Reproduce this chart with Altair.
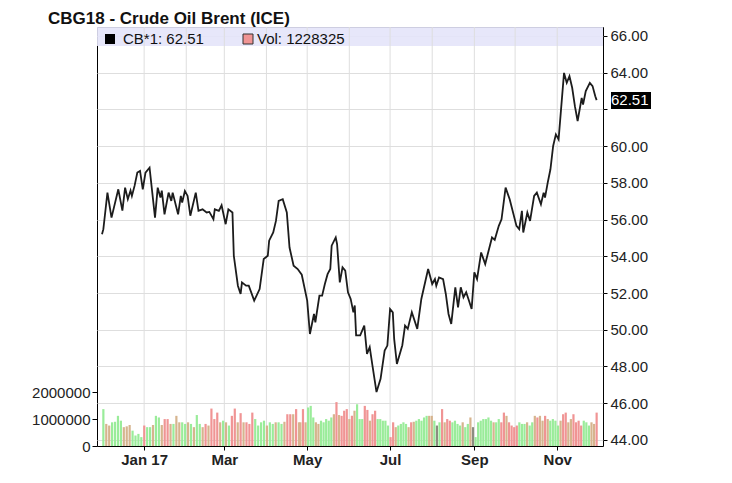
import altair as alt
import pandas as pd

TITLE = "CBG18 - Crude Oil Brent (ICE)"
LEGEND_LABELS = ["CB*1: 62.51", "Vol: 1228325"]
LAST_PRICE = 62.51

PRICE_DATES = [
    "2016-12-01", "2016-12-02", "2016-12-05", "2016-12-08", "2016-12-13", "2016-12-16", "2016-12-18",
    "2016-12-20", "2016-12-22", "2016-12-23", "2016-12-25", "2016-12-27", "2016-12-29", "2016-12-31",
    "2017-01-02", "2017-01-05", "2017-01-07", "2017-01-09", "2017-01-11", "2017-01-13", "2017-01-14",
    "2017-01-16", "2017-01-19", "2017-01-21", "2017-01-22", "2017-01-26", "2017-01-28", "2017-01-29",
    "2017-01-31", "2017-02-02", "2017-02-04", "2017-02-08", "2017-02-10", "2017-02-13", "2017-02-16",
    "2017-02-18", "2017-02-21", "2017-02-22", "2017-02-25", "2017-02-27", "2017-03-02", "2017-03-04",
    "2017-03-07", "2017-03-08", "2017-03-11", "2017-03-13", "2017-03-14", "2017-03-17", "2017-03-19",
    "2017-03-23", "2017-03-27", "2017-03-30", "2017-04-02", "2017-04-03", "2017-04-06", "2017-04-08",
    "2017-04-10", "2017-04-13", "2017-04-16", "2017-04-18", "2017-04-21", "2017-04-24", "2017-04-27",
    "2017-05-01", "2017-05-03", "2017-05-06", "2017-05-07", "2017-05-10", "2017-05-12", "2017-05-14",
    "2017-05-16", "2017-05-18", "2017-05-19", "2017-05-22", "2017-05-23", "2017-05-25", "2017-05-27",
    "2017-05-29", "2017-05-31", "2017-06-02", "2017-06-04", "2017-06-05", "2017-06-06", "2017-06-09",
    "2017-06-12", "2017-06-14", "2017-06-16", "2017-06-18", "2017-06-21", "2017-06-24", "2017-06-27",
    "2017-06-29", "2017-07-01", "2017-07-03", "2017-07-04", "2017-07-06", "2017-07-10", "2017-07-12",
    "2017-07-14", "2017-07-17", "2017-07-21", "2017-07-24", "2017-07-29", "2017-08-01", "2017-08-03",
    "2017-08-04", "2017-08-06", "2017-08-09", "2017-08-11", "2017-08-13", "2017-08-15", "2017-08-18",
    "2017-08-20", "2017-08-22", "2017-08-24", "2017-08-26", "2017-08-28", "2017-08-30", "2017-09-01",
    "2017-09-03", "2017-09-06", "2017-09-09", "2017-09-14", "2017-09-16", "2017-09-19", "2017-09-21",
    "2017-09-24", "2017-09-27", "2017-10-02", "2017-10-04", "2017-10-06", "2017-10-07", "2017-10-10",
    "2017-10-12", "2017-10-15", "2017-10-17", "2017-10-20", "2017-10-22", "2017-10-23", "2017-10-25",
    "2017-10-27", "2017-10-29", "2017-10-31", "2017-11-02", "2017-11-04", "2017-11-06", "2017-11-08",
    "2017-11-10", "2017-11-12", "2017-11-14", "2017-11-16", "2017-11-19", "2017-11-20", "2017-11-22",
    "2017-11-25", "2017-11-27", "2017-11-29", "2017-11-30",
]
PRICE_VALUES = [
    55.20, 55.48, 57.47, 56.11, 57.65, 56.49, 57.74,
    57.11, 57.58, 57.29, 57.85, 58.56, 58.65, 57.65,
    58.56, 58.83, 57.47, 56.11, 57.74, 57.20, 57.58,
    56.29, 57.47, 57.02, 57.47, 56.29, 57.29, 56.93,
    57.56, 57.29, 56.21, 57.47, 56.48, 56.56, 56.39,
    56.42, 56.02, 56.56, 56.48, 56.78, 55.75, 56.56,
    56.39, 54.03, 52.40, 51.95, 52.58, 52.40, 52.40,
    51.59, 52.22, 53.85, 54.03, 54.85, 55.30, 55.93,
    57.02, 57.11, 56.39, 54.48, 53.49, 53.31, 53.00,
    51.59, 49.77, 50.86, 50.41, 51.86, 51.86, 52.49,
    53.03, 53.31, 54.58, 55.03, 54.66, 52.58, 53.40,
    53.22, 52.04, 51.68, 50.95, 51.32, 49.69, 49.69,
    50.23, 48.69, 49.05, 48.06, 46.61, 47.33, 48.87,
    49.14, 51.13, 50.95, 49.50, 48.14, 49.16, 50.23,
    50.05, 50.95, 50.05, 51.68, 53.31, 52.49, 52.76,
    52.40, 52.85, 52.76, 51.95, 50.86, 50.32, 52.31,
    51.22, 52.31, 51.77, 52.04, 51.59, 51.13, 53.13,
    52.76, 54.21, 53.58, 55.03, 54.90, 55.66, 56.02,
    57.74, 57.11, 55.66, 55.48, 56.48, 55.30, 56.39,
    55.93, 57.29, 57.47, 56.84, 57.47, 57.20, 58.01,
    58.74, 60.01, 60.64, 60.37, 62.18, 63.99, 63.45,
    63.81, 63.18, 62.18, 61.37, 62.63, 62.27, 63.00,
    63.45, 63.27, 62.72, 62.51,
]

# Daily volume (thousands), Dec 2016 - late Apr 2017 and late Apr - Nov 2017
VOLUME_A = [
    1370, 820, 760, 880, 900, 1120, 940, 700, 730, 780,
    570, 390, 450, 330, 760, 700, 700, 780, 1120, 1060,
    780, 1000, 1000, 820, 820, 1120, 880, 880, 820, 880,
    820, 700, 1150, 820, 700, 820, 760, 1390, 1000, 1240,
    880, 940, 880, 760, 1120, 1390, 880, 1220, 880, 880,
    820, 1240, 1000, 760, 880, 940, 760, 880, 820, 880,
    880, 820, 900, 1180, 1180, 1180, 1370, 880,
]
VOLUME_A_COLORS = "gttggggttt" "ggggrggtgg" "trrtgttggt" "gtggtrtrrr" "tgtgrrtrtr" "rrggggtggt" "ggtrrtrt"
VOLUME_B = [
    880, 1370, 880, 1430, 1490, 1060, 880, 820, 940, 880,
    1000, 940, 1060, 1180, 1630, 1150, 1120, 1310, 1370, 1000,
    1120, 1310, 1550, 1000, 1000, 1490, 1340, 940, 1180, 1310,
    1000, 1000, 940, 940, 760, 330, 880, 700, 760, 820,
    880, 820, 700, 880, 900, 940, 1000, 940, 1060, 1120,
    1120, 1120, 940, 760, 880, 1370, 880, 1000, 940, 880,
    940, 820, 760, 880, 700, 820, 1060, 700, 330, 880,
    940, 1000, 1000, 1060, 940, 880, 880, 1000, 880, 1240,
    1120, 880, 760, 700, 760, 880, 820, 820, 880, 760,
    880, 1120, 1060, 1120, 940, 1120, 1000, 940, 1000, 940,
    760, 940, 1180, 1240, 880, 1000, 1180, 880, 940, 760,
    940, 880, 760, 880, 820, 1240,
]
VOLUME_B_COLORS = "trtgggttgg" "gggtrtrrrt" "rtgggrrtrr" "gggggrrtgg" "ggtrtggggg" "ttgdgrtrrg" "gggtggtdgg" "gggggtggrr" "trrrrgggtg" "gtrttrtggg" "gtrrttrrrr" "gggttr"
VOLUME_A_SPAN = ["2016-12-02", "2017-04-25"]
VOLUME_B_SPAN = ["2017-04-26", "2017-11-30"]

PRICE_TICKS = [44, 46, 48, 50, 52, 54, 56, 58, 60, 62, 64, 66]
HIDDEN_PRICE_LABELS = [62]
VOLUME_TICKS = [0, 1000000, 2000000]
X_TICK_DATES = ["2017-01-01", "2017-03-01", "2017-05-01", "2017-07-01", "2017-09-01", "2017-11-01"]
X_TICK_LABELS = ["Jan 17", "Mar", "May", "Jul", "Sep", "Nov"]
GRID_MONTHS = ["2017-01-01", "2017-02-01", "2017-03-01", "2017-04-01", "2017-05-01", "2017-06-01",
               "2017-07-01", "2017-08-01", "2017-09-01", "2017-10-01", "2017-11-01"]
X_DOMAIN = ["2016-12-01", "2017-12-01"]
PRICE_DOMAIN = [43.67, 66.49]
VOLUME_DOMAIN = [0, 15560000]

COLOR_CODES = ["g", "r", "t", "d"]
COLOR_RANGE = ["#9aec9a", "#f09494", "#d6b48e", "#8c8c80"]

FONT = "Liberation Sans"
W, H = 506, 419


def ms(s):
    return int(pd.Timestamp(s).value // 10**6)


def spread(span, n):
    a, b = ms(span[0]), ms(span[1])
    return [a + (b - a) * i / (n - 1) for i in range(n)]


price_df = pd.DataFrame({"date": PRICE_DATES, "price": PRICE_VALUES})
vol_df = pd.DataFrame({
    "t": spread(VOLUME_A_SPAN, len(VOLUME_A)) + spread(VOLUME_B_SPAN, len(VOLUME_B)),
    "vol": [v * 1000 for v in VOLUME_A + VOLUME_B],
    "c": list(VOLUME_A_COLORS + VOLUME_B_COLORS),
})
grid_df = pd.DataFrame({"m": [ms(d) for d in GRID_MONTHS]})

label_expr = "".join(
    f"time(datum.value) == {ms(d)} ? '{l}' : " for d, l in zip(X_TICK_DATES, X_TICK_LABELS)
) + "''"

x_scale = alt.Scale(type="utc", domain=[ms(d) for d in X_DOMAIN])
x_axis = alt.Axis(
    values=[ms(d) for d in X_TICK_DATES], labelExpr=label_expr, grid=False, domain=False,
    ticks=True, tickSize=4, tickColor="black", labelFontWeight="bold", labelFontSize=15,
    labelFont=FONT, labelColor="#222", labelPadding=2, title=None, labelFlush=False,
)
price_scale = alt.Scale(domain=PRICE_DOMAIN, nice=False, zero=False)
hide_expr = " || ".join(f"datum.value == {v}" for v in HIDDEN_PRICE_LABELS)
price_axis = alt.Axis(
    orient="right", values=PRICE_TICKS, grid=True, gridColor="#dedede", gridWidth=1,
    domain=False, tickSize=4, tickColor="black", labelFontSize=15, labelFont=FONT,
    labelColor="#222", labelPadding=3, title=None,
    labelExpr=f"({hide_expr}) ? '' : format(datum.value, '.2f')",
)
vol_axis = alt.Axis(
    orient="left", values=VOLUME_TICKS, format="d", grid=False, domain=False,
    tickSize=5, tickColor="black", labelFontSize=15, labelFont=FONT, labelColor="#222",
    labelPadding=2, title=None,
)

one = pd.DataFrame({"k": [0]})

band = alt.Chart(one).mark_rect(color="#e4e4fa", opacity=0.9).encode(
    x=alt.value(0), x2=alt.value(W), y=alt.value(0), y2=alt.value(19)
)

month_rules = alt.Chart(grid_df).mark_rule(color="#dedede", strokeWidth=1).encode(
    x=alt.X("m:T", scale=x_scale, axis=x_axis), y=alt.value(0), y2=alt.value(H)
)

bars = alt.Chart(vol_df).mark_bar(size=2.2).encode(
    x=alt.X("t:T", scale=x_scale, axis=x_axis),
    y=alt.Y("vol:Q", scale=alt.Scale(domain=VOLUME_DOMAIN, nice=False), axis=vol_axis),
    color=alt.Color("c:N", scale=alt.Scale(domain=COLOR_CODES, range=COLOR_RANGE), legend=None),
)

line = alt.Chart(price_df).mark_line(color="#1c1c1c", strokeWidth=1.8).encode(
    x=alt.X("date:T", scale=x_scale, axis=x_axis),
    y=alt.Y("price:Q", scale=price_scale, axis=price_axis),
)

last_df = pd.DataFrame({"p": [LAST_PRICE], "label": [f"{LAST_PRICE:.2f}"]})
last_box = alt.Chart(last_df).mark_rect(color="black", yOffset=-8, y2Offset=9).encode(
    x=alt.value(W + 8), x2=alt.value(W + 48),
    y=alt.Y("p:Q", scale=price_scale, axis=None), y2=alt.Y2("p:Q"),
)
last_text = alt.Chart(last_df).mark_text(
    color="white", align="left", baseline="middle", fontSize=15, font=FONT
).encode(
    x=alt.value(W + 8), y=alt.Y("p:Q", scale=price_scale, axis=None), text="label:N"
)

leg_sq1 = alt.Chart(one).mark_rect(color="black").encode(
    x=alt.value(8), x2=alt.value(18), y=alt.value(7), y2=alt.value(17)
)
leg_sq2 = alt.Chart(one).mark_rect(color="#f09494", stroke="#333", strokeWidth=1).encode(
    x=alt.value(146), x2=alt.value(156), y=alt.value(7), y2=alt.value(17)
)
leg_t1 = alt.Chart(one).mark_text(
    align="left", baseline="middle", fontSize=15, font=FONT, color="#111"
).encode(x=alt.value(26), y=alt.value(12), text=alt.value(LEGEND_LABELS[0]))
leg_t2 = alt.Chart(one).mark_text(
    align="left", baseline="middle", fontSize=15, font=FONT, color="#111"
).encode(x=alt.value(160), y=alt.value(12), text=alt.value(LEGEND_LABELS[1]))

title = alt.Chart(one).mark_text(
    align="left", baseline="alphabetic", fontSize=17, fontWeight="bold", font=FONT, color="#111"
).encode(x=alt.value(-49), y=alt.value(-3), text=alt.value(TITLE))

chart = alt.layer(
    band, month_rules, bars, line, last_box, last_text, leg_sq1, leg_sq2, leg_t1, leg_t2, title
).resolve_scale(y="independent").properties(
    width=W, height=H,
    autosize=alt.AutoSizeParams(type="none"),
    padding={"left": 89, "top": 19, "right": 120, "bottom": 31},
).configure_view(stroke="black", strokeWidth=1)

chart.save("out.html", embed_options={"renderer": "svg", "actions": False})
